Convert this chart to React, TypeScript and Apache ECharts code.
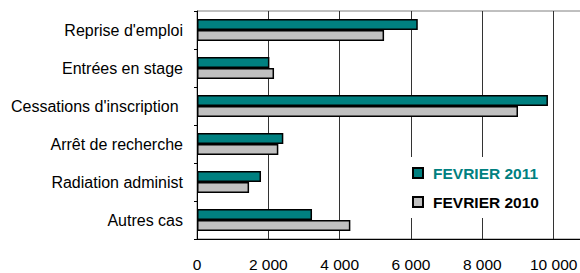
import React, { useEffect, useRef } from "react";
import * as echarts from "echarts";

const categories = [
  "Reprise d'emploi",
  "Entrées en stage",
  "Cessations d'inscription ",
  "Arrêt de recherche",
  "Radiation administ",
  "Autres cas",
];
const fev2011 = [6190, 2030, 9840, 2420, 1795, 3225];
const fev2010 = [5245, 2160, 9000, 2280, 1460, 4300];
const seriesNames = ["FEVRIER 2011", "FEVRIER 2010"];

export default function App() {
  const ref = useRef<HTMLDivElement>(null);
  useEffect(() => {
    const chart = echarts.init(ref.current!, null, { renderer: "svg" });
    const font = "'Liberation Sans', Arial, sans-serif";
    chart.setOption({
      animation: false,
      grid: {
        left: 197,
        top: 11,
        width: 428,
        height: 228,
        show: true,
        borderColor: "#808080",
        borderWidth: 1,
        containLabel: false,
        outerBoundsMode: "none",
      },
      xAxis: {
        type: "value",
        min: 0,
        max: 12000,
        interval: 2000,
        axisLine: { show: true, lineStyle: { color: "#000", width: 1 } },
        axisTick: { show: false },
        splitLine: { show: true, lineStyle: { color: "#333", width: 1 } },
        axisLabel: {
          color: "#000",
          fontFamily: font,
          fontSize: 15.5,
          margin: 17,
          showMaxLabel: false,
          formatter: (v: number) =>
            v >= 12000 ? "" : String(v).replace(/\B(?=(\d{3})+(?!\d))/g, " "),
        },
      },
      yAxis: {
        type: "category",
        data: categories,
        inverse: true,
        axisLine: { show: true, lineStyle: { color: "#000", width: 1 } },
        axisTick: { show: true, length: 3, lineStyle: { color: "#000" } },
        axisLabel: { color: "#000", fontFamily: font, fontSize: 16, margin: 14 },
      },
      legend: {
        orient: "vertical",
        left: 400,
        top: 157,
        padding: [8, 12, 8, 12],
        backgroundColor: "#fff",
        icon: "rect",
        itemWidth: 10,
        itemHeight: 10,
        itemGap: 13,
        textStyle: {
          fontFamily: font,
          fontSize: 15.5,
          fontWeight: "bold",
          color: "#000",
          padding: [0, 0, 0, 5],
        },
        data: [
          { name: seriesNames[0], textStyle: { color: "#008080" } },
          { name: seriesNames[1], textStyle: { color: "#000" } },
        ],
      },
      series: [
        {
          name: seriesNames[0],
          type: "bar",
          data: fev2011,
          barWidth: 11,
          barGap: "0%",
          itemStyle: { color: "#008080", borderColor: "#000", borderWidth: 1.5 },
        },
        {
          name: seriesNames[1],
          type: "bar",
          data: fev2010,
          barWidth: 11,
          barGap: "0%",
          itemStyle: { color: "#C0C0C0", borderColor: "#000", borderWidth: 1.5 },
        },
      ],
    });
    return () => chart.dispose();
  }, []);
  return <div ref={ref} style={{ width: 580, height: 273, position: "absolute", left: 0, top: 0, background: "#fff" }} />;
}
